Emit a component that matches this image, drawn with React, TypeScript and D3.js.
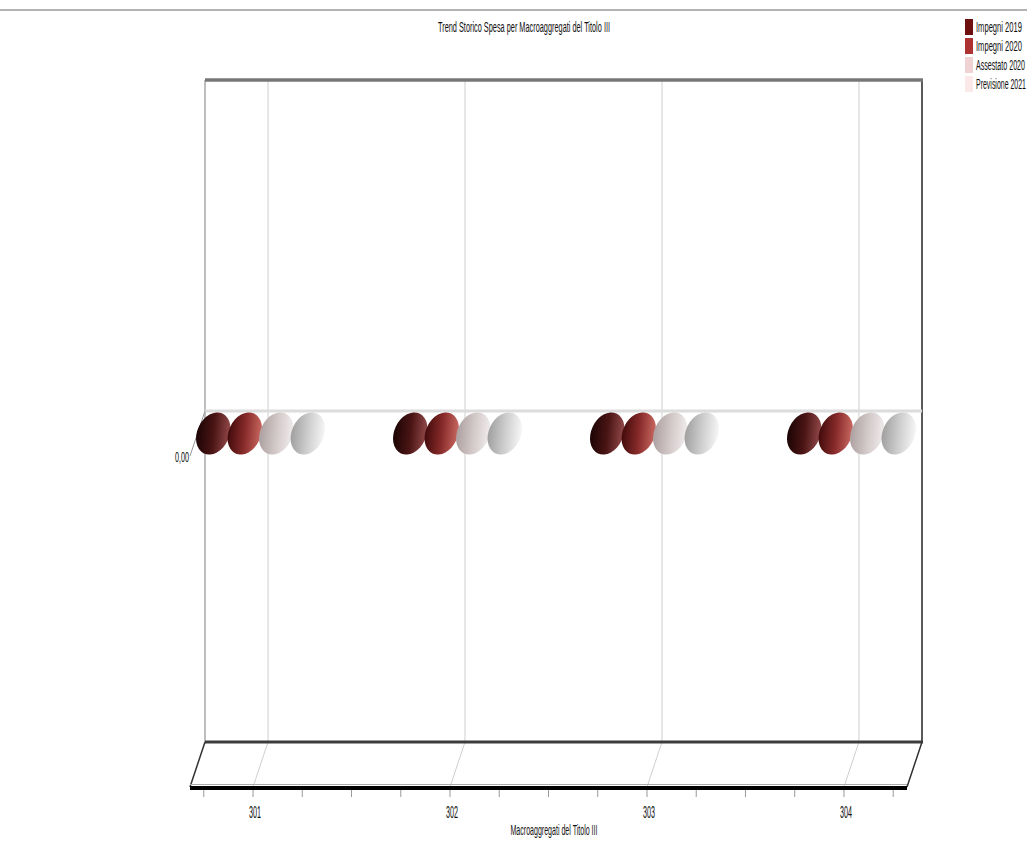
import React from "react";
import * as d3 from "d3";

const categories = ["301", "302", "303", "304"];
const seriesNames = ["Impegni 2019", "Impegni 2020", "Assestato 2020", "Previsione 2021"];
const impegni2019 = [0, 0, 0, 0];
const impegni2020 = [0, 0, 0, 0];
const assestato2020 = [0, 0, 0, 0];
const previsione2021 = [0, 0, 0, 0];
const yTickValues = [0];
const yTickLabels = ["0,00"];
const seriesValues = [impegni2019, impegni2020, assestato2020, previsione2021];

const legendColors = ["#6e1010", "#ad3333", "#f0d2d2", "#fbe9e9"];
const gradStops = [
  ["#160303", "#4a1414", "#9c5050"],
  ["#3a0707", "#872a2a", "#d27068"],
  ["#a89a9a", "#d2c8c8", "#f4f0f0"],
  ["#9a9a9a", "#cdcdcd", "#fbfbfb"],
];

const FONT = "'Liberation Sans Narrow', 'Liberation Sans', Arial, sans-serif";

export default function App() {
  const W = 1027, H = 855;
  const wall = { left: 205, right: 922, top: 80, bottom: 742 };
  const dx = -15, dy = 45;

  const xBack = d3.scalePoint<string>().domain(categories).range([wall.left, wall.right]).padding(0.32);
  const step = xBack.step();
  const xSeries = d3.scaleBand<string>().domain(seriesNames).range([-step * 0.32, step * 0.32]);
  const y = d3.scaleLinear().domain([-1, 1]).range([wall.bottom, wall.top]);

  const frontLeft = wall.left + dx, frontRight = wall.right + dx, frontY = wall.bottom + dy;
  const minorTicks: number[] = [];
  const first = (xBack(categories[0]) as number) + dx;
  for (let k = -4; k < 20; k++) {
    const t = first + (k * step) / 4;
    if (t > frontLeft + 5 && t < frontRight - 5) minorTicks.push(t);
  }

  return (
    <svg width={W} height={H} style={{ position: "absolute", left: 0, top: 0, background: "#fff" }}>
      <defs>
        {gradStops.map((s, i) => (
          <linearGradient key={i} id={`g${i}`} x1="0" y1="0.75" x2="1" y2="0.25">
            <stop offset="0" stopColor={s[0]} />
            <stop offset="0.5" stopColor={s[1]} />
            <stop offset="1" stopColor={s[2]} />
          </linearGradient>
        ))}
      </defs>
      <line x1={0} x2={W} y1={10} y2={10} stroke="#9a9a9a" strokeWidth={1.5} />

      <text x={524} y={32} textAnchor="middle" fontFamily={FONT} fontSize={14} fill="#111"
        textLength={172} lengthAdjust="spacingAndGlyphs">
        Trend Storico Spesa per Macroaggregati del Titolo III
      </text>

      {categories.map((c) => {
        const x = xBack(c) as number;
        return (
          <g key={c}>
            <line x1={x} x2={x} y1={wall.top} y2={wall.bottom} stroke="#cfcfcf" strokeWidth={1} />
            <line x1={x} x2={x + dx} y1={wall.bottom} y2={frontY} stroke="#cfcfcf" strokeWidth={1} />
          </g>
        );
      })}

      <line x1={wall.left} x2={wall.left} y1={wall.top} y2={wall.bottom} stroke="#a8a8a8" strokeWidth={1.5} />
      <line x1={wall.right} x2={wall.right} y1={wall.top} y2={wall.bottom} stroke="#5a5a5a" strokeWidth={2} />
      <line x1={wall.left} x2={wall.right + 1} y1={wall.top} y2={wall.top} stroke="#777" strokeWidth={3.5} />

      {yTickValues.map((v, i) => (
        <g key={i}>
          <line x1={wall.left} x2={wall.right} y1={y(v)} y2={y(v)} stroke="#dcdcdc" strokeWidth={3} />
          <line x1={wall.left} x2={wall.left + dx} y1={y(v)} y2={y(v) + dy} stroke="#999" strokeWidth={1} />
          <text x={frontLeft - 1} y={y(v) + dy + 6} textAnchor="end" fontFamily={FONT} fontSize={15} fill="#111"
            textLength={14} lengthAdjust="spacingAndGlyphs">{yTickLabels[i]}</text>
        </g>
      ))}

      <line x1={wall.left} x2={wall.right + 1} y1={wall.bottom} y2={wall.bottom} stroke="#3c3c3c" strokeWidth={3} />
      <line x1={wall.left} x2={frontLeft} y1={wall.bottom} y2={frontY} stroke="#333" strokeWidth={1.5} />
      <line x1={wall.right} x2={frontRight} y1={wall.bottom} y2={frontY} stroke="#333" strokeWidth={1.5} />
      <line x1={frontLeft} x2={frontRight} y1={frontY - 2.5} y2={frontY - 2.5} stroke="#aaa" strokeWidth={1} />
      <line x1={frontLeft} x2={frontRight} y1={frontY + 1} y2={frontY + 1} stroke="#000" strokeWidth={4} />

      {minorTicks.map((t, i) => (
        <line key={i} x1={t} x2={t} y1={frontY + 3} y2={frontY + 10} stroke="#999" strokeWidth={1} />
      ))}

      {categories.map((c) => (
        <text key={c} x={(xBack(c) as number) + dx + 2} y={818} textAnchor="middle" fontFamily={FONT}
          fontSize={16} fill="#111" textLength={12} lengthAdjust="spacingAndGlyphs">{c}</text>
      ))}

      <text x={554} y={835} textAnchor="middle" fontFamily={FONT} fontSize={14} fill="#111"
        textLength={87} lengthAdjust="spacingAndGlyphs">Macroaggregati del Titolo III</text>

      {categories.map((c, ci) => (
        <g key={c}>
          {seriesNames.map((s, si) => {
            const cx = (xBack(c) as number) + dx / 2 + (xSeries(s) as number) + xSeries.bandwidth() / 2;
            const cy = y(seriesValues[si][ci]) + dy / 2;
            return (
              <ellipse key={s} cx={cx} cy={cy} rx={16} ry={22} fill={`url(#g${si})`}
                transform={`rotate(25 ${cx} ${cy})`} />
            );
          })}
        </g>
      ))}

      {seriesNames.map((s, i) => (
        <g key={s}>
          <rect x={965} y={19 + i * 19} width={8} height={16} fill={legendColors[i]} />
          <text x={976} y={32 + i * 19} fontFamily={FONT} fontSize={14} fill="#111"
            textLength={[46, 46, 49, 50][i]} lengthAdjust="spacingAndGlyphs">{s}</text>
        </g>
      ))}
    </svg>
  );
}
